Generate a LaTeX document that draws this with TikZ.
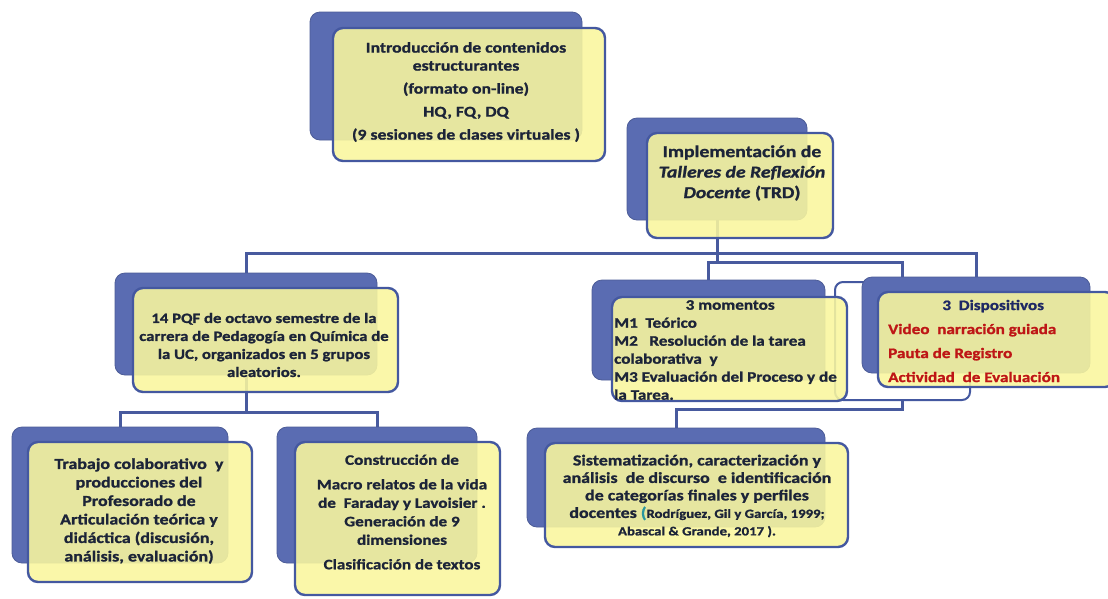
\documentclass[tikz,border=0pt]{standalone}
\usepackage{fontspec}
\setmainfont{Carlito}[FakeStretch=1.18, BoldFeatures={FakeBold=1.2}, BoldItalicFeatures={FakeBold=1.2}]
\usetikzlibrary{positioning}

\definecolor{backblue}{RGB}{90,108,178}
\definecolor{cardyellow}{RGB}{250,247,158}
\definecolor{edgeblue}{RGB}{68,88,160}
\definecolor{linkblue}{RGB}{72,90,158}
\definecolor{inkdark}{RGB}{28,36,56}
\definecolor{titleblue}{RGB}{30,40,100}
\definecolor{redtext}{RGB}{190,22,22}
\definecolor{tealmark}{RGB}{40,150,160}

\tikzset{
  backbox/.style={fill=backblue, draw=backblue!85!black, line width=0.8pt, rounded corners=10pt, inner sep=0pt},
  frontbox/.style={fill=cardyellow, fill opacity=0.88, draw=edgeblue, draw opacity=1, line width=2.4pt, rounded corners=10pt, inner sep=0pt},
  ghostbox/.style={fill=white, draw=edgeblue, line width=2pt, rounded corners=8pt, inner sep=0pt},
  link/.style={draw=linkblue, line width=3pt},
  txt/.style={text=inkdark, font=\bfseries\fontsize{14.5}{18}\selectfont, align=center, inner sep=0pt},
}

\begin{document}
\begin{tikzpicture}[x=1pt, y=-1pt]
\useasboundingbox (0,0) rectangle (1108,598);
\fill[white] (0,0) rectangle (1108,598);

% bus levels
\coordinate (busOne) at (0,253);
\coordinate (busTwo) at (0,262);
\coordinate (busThree) at (0,412);
\coordinate (busFour) at (0,409);

% hidden card behind the devices
\node[ghostbox, minimum width=135, minimum height=118] (ghost) at (902.5,341) {};

% back cards
\node[backbox, minimum width=272, minimum height=128] (introB) at (446,76) {};
\node[backbox, minimum width=180, minimum height=102] (trdB) at (717,169) {};
\node[backbox, minimum width=262, minimum height=102] (pqfB) at (246,324) {};
\node[backbox, minimum width=233, minimum height=100] (momB) at (708.5,330) {};
\node[backbox, minimum width=228, minimum height=96] (dispB) at (976,325) {};
\node[backbox, minimum width=298, minimum height=99] (sisB) at (676,477.5) {};
\node[backbox, minimum width=216, minimum height=136] (trabB) at (120,495) {};
\node[backbox, minimum width=200, minimum height=136] (conB) at (377,495) {};

% connectors
\draw[link] (trdB.south) -- (trdB.south |- busTwo);
\draw[link] (pqfB.north) -- (pqfB.north |- busOne) -| (dispB.north);
\draw[link] (momB.north) -- (momB.north |- busTwo) -| (dispB.north -| ghost.north);
\draw[link] (pqfB.south) -- (pqfB.south |- busThree);
\draw[link] (trabB.north) -- (trabB.north |- busThree) -| (conB.north);
\draw[link] (ghost.south) -- (ghost.south |- busFour) -| (sisB.north);

% front cards
\node[frontbox, minimum width=272, minimum height=133] (introF) at (469,94.5) {};
\node[frontbox, minimum width=186, minimum height=105] (trdF) at (740,185.5) {};
\node[frontbox, minimum width=265, minimum height=104] (pqfF) at (265.5,340) {};
\node[frontbox, minimum width=235, minimum height=104] (momF) at (729.5,349) {};
\node[frontbox, minimum width=237, minimum height=95] (dispF) at (996.5,339.5) {};
\node[frontbox, minimum width=303, minimum height=104] (sisF) at (696.5,495) {};
\node[frontbox, minimum width=224, minimum height=140] (trabF) at (140,512) {};
\node[frontbox, minimum width=205, minimum height=153] (conF) at (397.5,518.5) {};

% texts
\node[txt, font=\bfseries\fontsize{15}{18}\selectfont] (introT) at (466,92)
  {Introducción de contenidos\\ estructurantes\\[5pt] (formato on-line)\\[5pt] HQ, FQ, DQ\\[5pt] (9 sesiones de clases virtuales )};
\node[txt, font=\bfseries\fontsize{16.7}{20.5}\selectfont] (trdT) at (742,173)
  {Implementación de\\ \textit{Talleres de Reflexión}\\ \textit{Docente} (TRD)};
\node[txt, font=\bfseries\fontsize{14.2}{18}\selectfont] (pqfT) at (264,345)
  {14 PQF de octavo semestre de la\\ carrera de Pedagogía en Química de\\ la UC, organizados en 5 grupos\\ aleatorios.};
\node[txt, anchor=west, text width=232, align=flush left] (momT) at (614,350)
  {\makebox[\linewidth]{3 momentos}\\ M1\ \ Teórico\\ M2\ \ \ Resolución de la tarea\\ colaborativa\ \ y\\ M3 Evaluación del Proceso y de\\ la Tarea.};
\node[txt, anchor=west, text width=210, align=flush left] (dispT) at (888,341)
  {\makebox[\linewidth]{\color{titleblue}3\ \ Dispositivos}\\[6pt] {\color{redtext}Video\ \ narración guiada}\\[6pt] {\color{redtext}Pauta de Registro}\\[6pt] {\color{redtext}Actividad\ \ de Evaluación}};
\node[txt, font=\bfseries\fontsize{15.2}{17.5}\selectfont] (sisT) at (697,496)
  {Sistematización, caracterización y\\ análisis\ \ de discurso\ \ e identificación\\ de categorías finales y perfiles\\ docentes {\color{tealmark}(}{\fontsize{12.5}{15}\selectfont Rodríguez, Gil y García, 1999;}\\ {\fontsize{12.5}{15}\selectfont Abascal \& Grande, 2017 ).}};
\node[txt, font=\bfseries\fontsize{15.2}{18.5}\selectfont] (trabT) at (139,511)
  {Trabajo colaborativo\ \ y\\ producciones del\\ Profesorado de\\ Articulación teórica y\\ didáctica (discusión,\\ análisis, evaluación)};
\node[txt, font=\bfseries\fontsize{14.5}{18.5}\selectfont] (conT) at (402,512)
  {Construcción de\\[6pt] Macro relatos de la vida\\ de\ \ Faraday y Lavoisier .\\ Generación de 9\\ dimensiones\\[6pt] Clasificación de textos};
\end{tikzpicture}
\end{document}
